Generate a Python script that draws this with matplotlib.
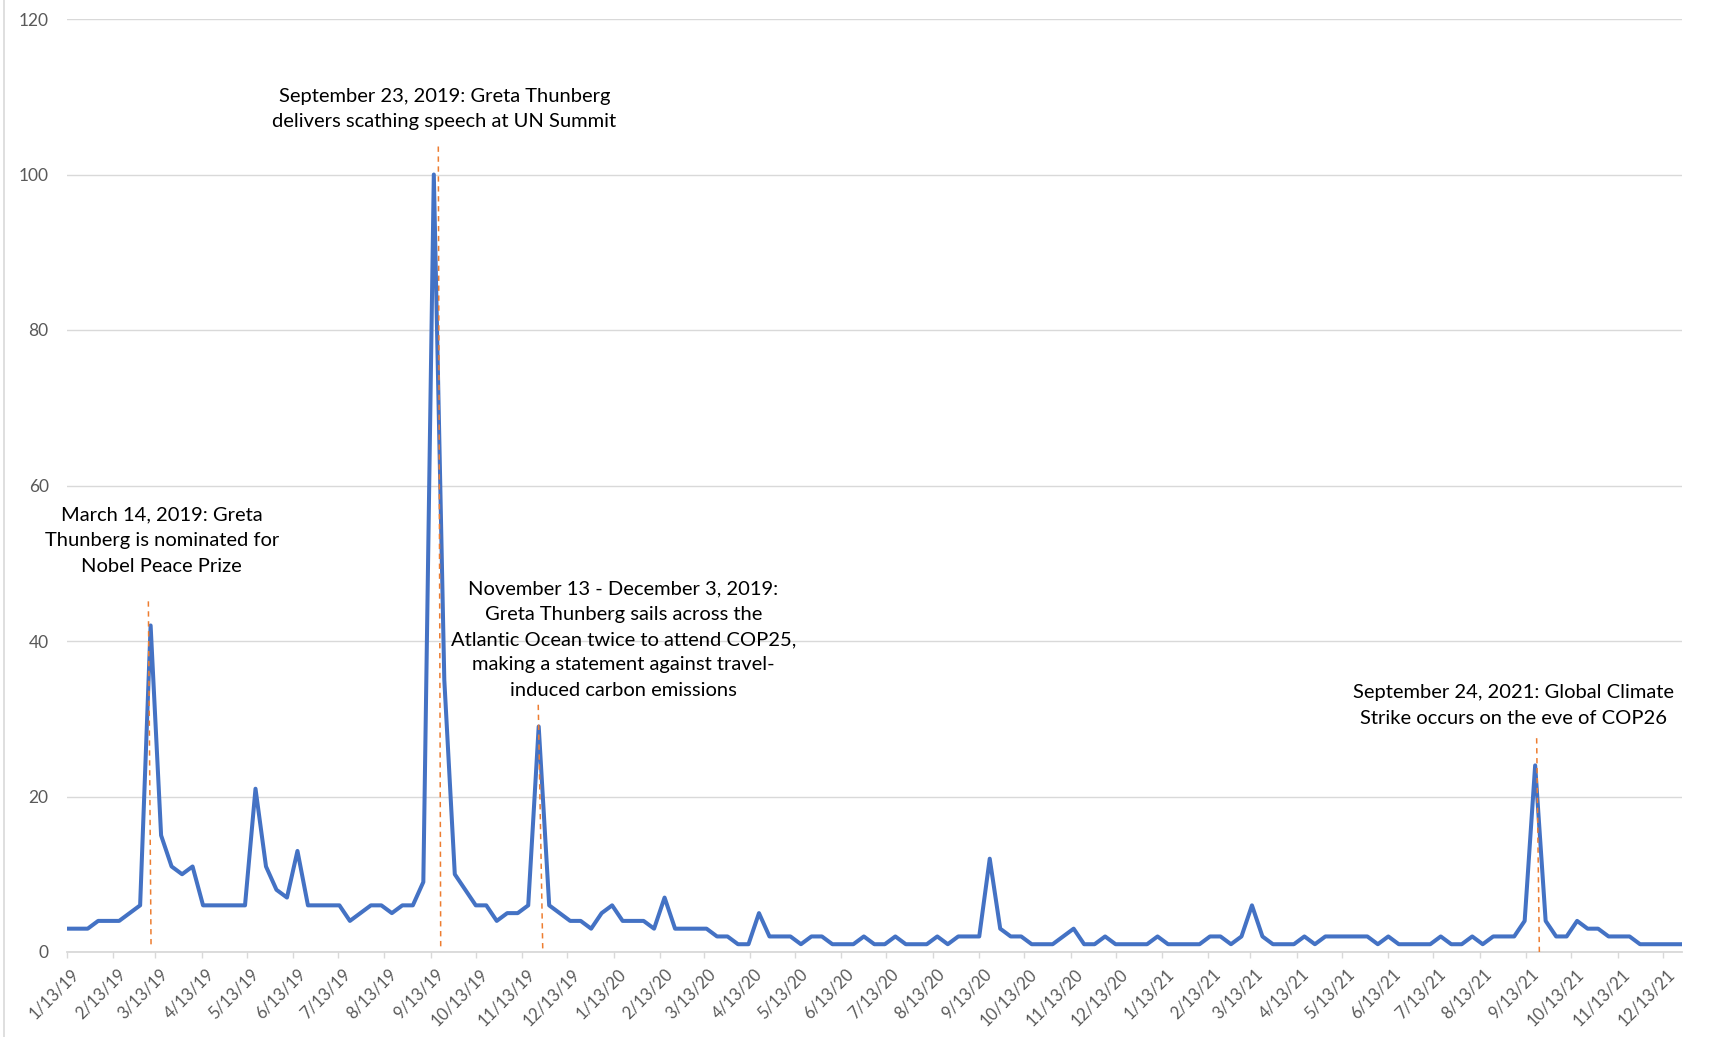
import matplotlib
matplotlib.use("Agg")
import matplotlib.pyplot as plt
import matplotlib.dates as mdates
import matplotlib.transforms as mtransforms
from matplotlib.lines import Line2D
import pandas as pd

plt.rcParams['font.family'] = ['Lato', 'DejaVu Sans']

# ---------------- data ----------------
start_date = "2019-01-13"          # first weekly observation (Sunday)
n_weeks = 155
interest = [
    3, 3, 3, 4, 4, 4, 5, 6, 42, 15,
    11, 10, 11, 6, 6, 6, 6, 6, 21, 11,
    8, 7, 13, 6, 6, 6, 6, 4, 5, 6,
    6, 5, 6, 6, 9, 100, 35, 10, 8, 6,
    6, 4, 5, 5, 6, 29, 6, 5, 4, 4,
    3, 5, 6, 4, 4, 4, 3, 7, 3, 3,
    3, 3, 2, 2, 1, 1, 5, 2, 2, 2,
    1, 2, 2, 1, 1, 1, 2, 1, 1, 2,
    1, 1, 1, 2, 1, 2, 2, 2, 12, 3,
    2, 2, 1, 1, 1, 2, 3, 1, 1, 2,
    1, 1, 1, 1, 2, 1, 1, 1, 1, 2,
    2, 1, 2, 6, 2, 1, 1, 1, 2, 1,
    2, 2, 2, 2, 2, 1, 2, 1, 1, 1,
    1, 2, 1, 1, 2, 1, 2, 2, 2, 4,
    24, 4, 2, 2, 4, 3, 3, 2, 2, 2,
    1, 1, 1, 1, 1,
]
dates = pd.date_range(start_date, periods=n_weeks, freq="7D")

y_ticks = [0, 20, 40, 60, 80, 100, 120]

annotation_texts = [
    "March 14, 2019: Greta\nThunberg is nominated for\nNobel Peace Prize",
    "September 23, 2019: Greta Thunberg\ndelivers scathing speech at UN Summit",
    "November 13 - December 3, 2019:\nGreta Thunberg sails across the\nAtlantic Ocean twice to attend COP25,\nmaking a statement against travel-\ninduced carbon emissions",
    "September 24, 2021: Global Climate\nStrike occurs on the eve of COP26",
]
# text anchor (days after start, value)
annotation_pos = [(63.5, 52.9), (252.0, 108.4), (371.5, 40.2), (965.5, 31.7)]
# marker lines: (top day, top value, bottom day, bottom value)
event_lines = [
    (54.5, 45.1, 56.3, 0.5),
    (248.0, 103.6, 249.6, 0.7),
    (314.7, 31.8, 317.7, 0.3),
    (981.0, 27.5, 982.8, 0.0),
]

# ---------------- figure ----------------
W, H, DPI = 1711, 1037, 100
fig = plt.figure(figsize=(W / DPI, H / DPI), dpi=DPI, facecolor="white")
ax = fig.add_axes([66.7 / W, 1 - 952 / H, (1682 - 66.7) / W, (952 - 19) / H])

grid_c = "#d9d9d9"
text_c = "#595959"

ax.plot(dates, interest, color="#4472C4", lw=2.9, solid_joinstyle="round",
        solid_capstyle="round", zorder=3)

t0 = pd.Timestamp(start_date)
for (d1, v1, d2, v2) in event_lines:
    ax.plot([t0 + pd.Timedelta(days=d1), t0 + pd.Timedelta(days=d2)], [v1, v2],
            color="#ED7D31", lw=1.1, dashes=(3.5, 3), zorder=4)

for txt, (d, v) in zip(annotation_texts, annotation_pos):
    ax.text(t0 + pd.Timedelta(days=d), v, txt, ha="center", va="center",
            fontsize=14.5, color="black", linespacing=1.6, zorder=5)

ax.set_ylim(0, 120)
ax.set_yticks(y_ticks)
ax.set_xlim(dates[0], dates[-1])

ax.grid(axis="y", color=grid_c, lw=1.0)
ax.set_axisbelow(True)
for s in ["top", "right", "left"]:
    ax.spines[s].set_visible(False)
ax.spines["bottom"].set_color(grid_c)
ax.spines["bottom"].set_linewidth(1.3)

ax.xaxis.set_major_locator(mdates.MonthLocator(bymonthday=13))
ax.xaxis.set_major_formatter(
    matplotlib.ticker.FuncFormatter(
        lambda x, pos: (lambda d: f"{d.month}/{d.day}/{d.strftime('%y')}")(mdates.num2date(x))))
ax.tick_params(axis="x", direction="out", length=4, width=1, color=grid_c,
               labelcolor=text_c, labelsize=12, pad=6)
ax.tick_params(axis="y", length=0, labelcolor=text_c, labelsize=12.5, pad=13)

offset = mtransforms.ScaledTranslation(4 / DPI, 0, fig.dpi_scale_trans)
for lab in ax.get_xticklabels():
    lab.set_rotation(45)
    lab.set_ha("right")
    lab.set_va("top")
    lab.set_rotation_mode("anchor")
    lab.set_transform(lab.get_transform() + offset)

fig.add_artist(Line2D([3.5 / W, 3.5 / W], [0, 1], transform=fig.transFigure,
                      color=grid_c, lw=1.2))

fig.savefig("out.png", dpi=DPI, facecolor="white")
